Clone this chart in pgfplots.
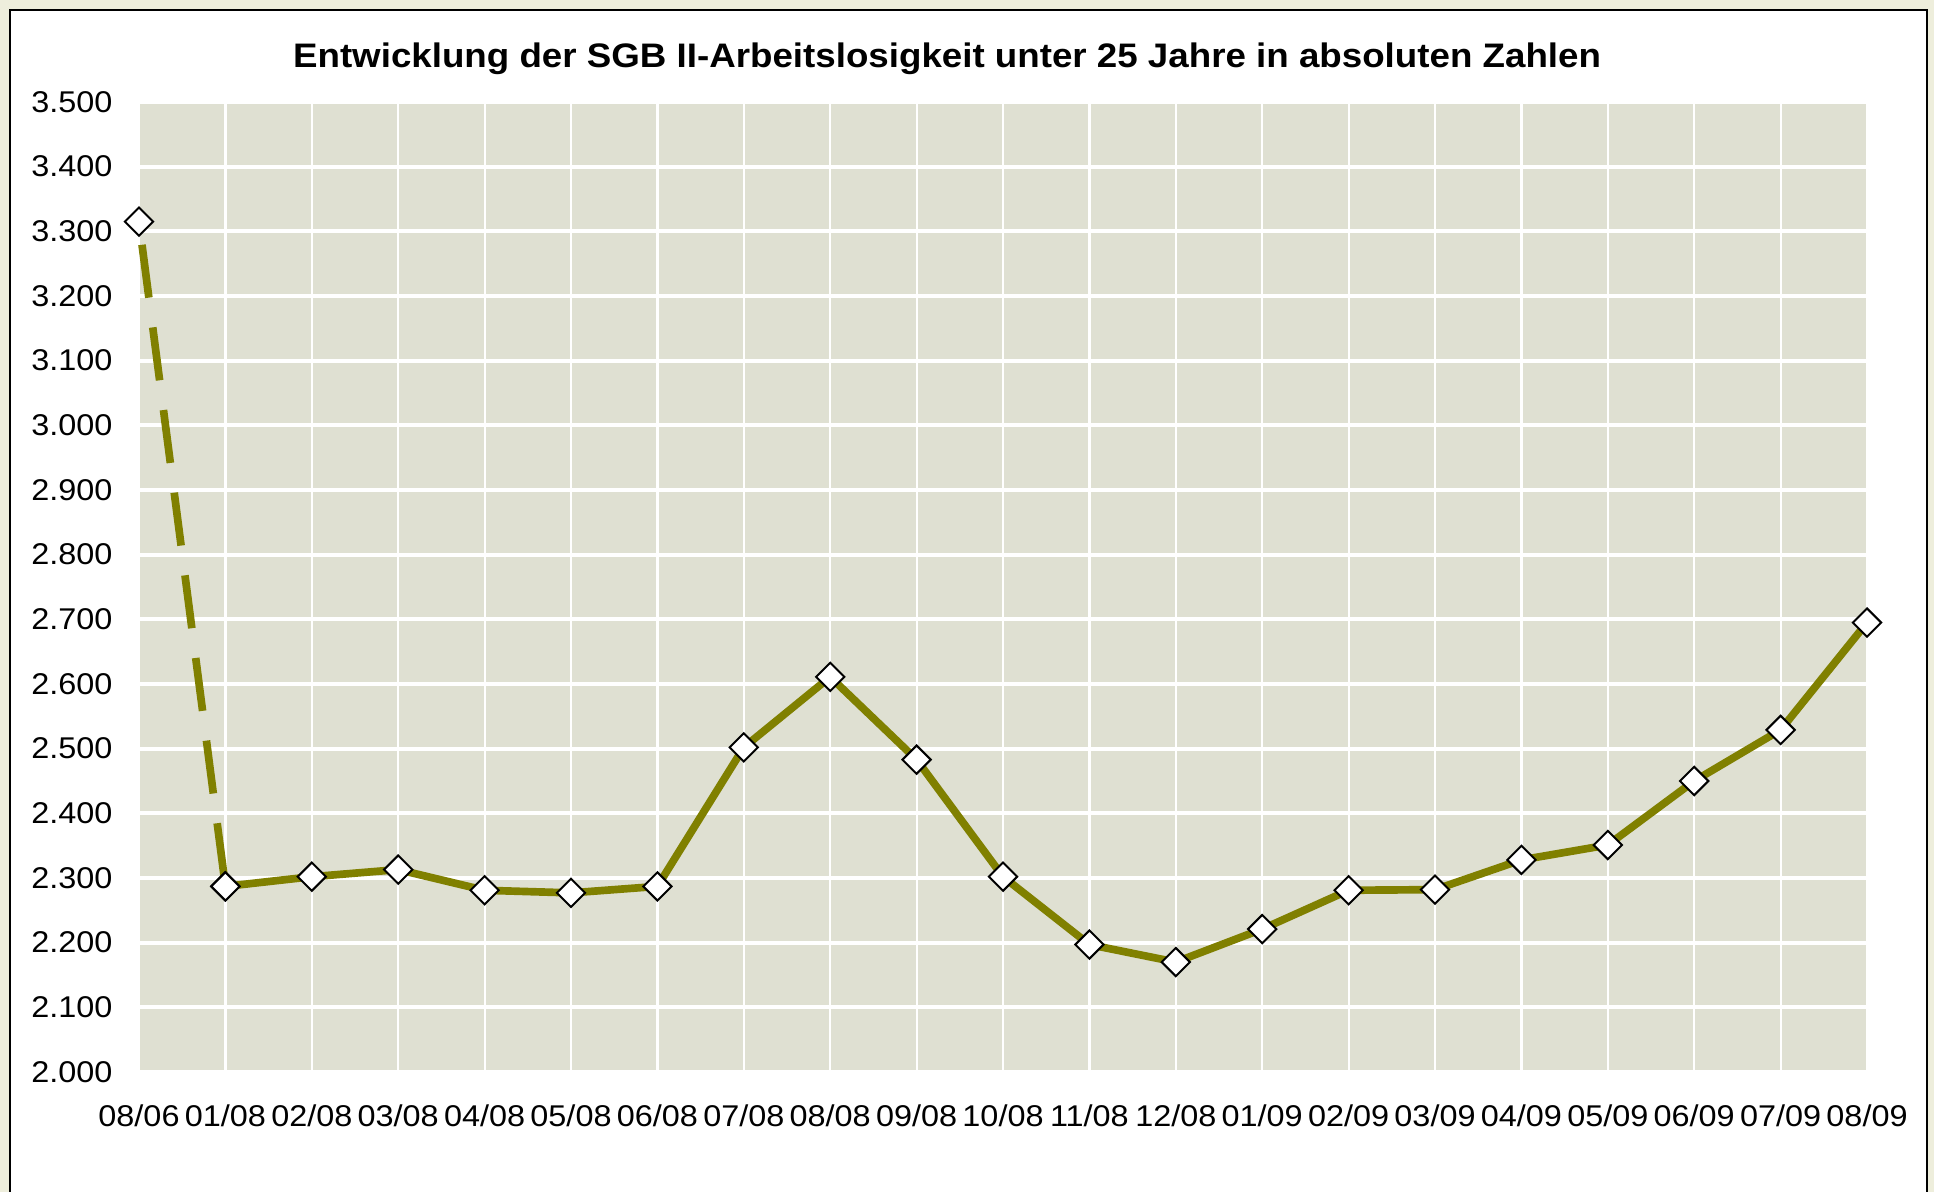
\documentclass[border=0pt]{standalone}
\usepackage{fontspec}
\setmainfont{Liberation Sans}[FakeStretch=1.08]
\usepackage{pgfplots}
\pgfplotsset{compat=1.18}

\definecolor{olivegreen}{RGB}{128,128,0}
\definecolor{plotbg}{RGB}{223,224,210}
\definecolor{cream}{RGB}{238,238,220}

\begin{document}
\begin{tikzpicture}
% frame: 1934 x 1192 px at 0.3pt per px
\clip (0,0) rectangle (580.2pt,-357.6pt);
\fill[cream] (0,0) rectangle (580.2pt,-357.6pt);
\filldraw[fill=white, draw=black, line width=0.6pt] (3pt,-3pt) rectangle (578.1pt,-400pt);
\begin{axis}[
    at={(41.7pt,-30.6pt)}, anchor=north west,
    scale only axis,
    width=518.4pt, height=291pt,
    xmin=0, xmax=20,
    ymin=2000, ymax=3500,
    xtick={0,1,...,20},
    xticklabels={08/06,01/08,02/08,03/08,04/08,05/08,06/08,07/08,08/08,09/08,10/08,11/08,12/08,01/09,02/09,03/09,04/09,05/09,06/09,07/09,08/09},
    ytick={2000,2100,...,3500},
    scaled y ticks=false,
    /pgf/number format/assume math mode=true,
    yticklabel style={/pgf/number format/1000 sep={.}, /pgf/number format/fixed,
        inner sep=0pt, xshift=-7.8pt, font=\fontsize{9}{10}\selectfont},
    xticklabel style={inner sep=0pt, yshift=-9.5pt, font=\fontsize{9}{10}\selectfont},
    axis background/.style={fill=plotbg},
    axis line style={draw=none},
    tick style={draw=none},
    grid=major,
    x grid style={white, line width=0.66pt},
    y grid style={white, line width=1.2pt},
    title={Entwicklung der SGB II-Arbeitslosigkeit unter 25 Jahre in absoluten Zahlen},
    title style={at={(0.4676,1)}, anchor=center, yshift=7pt,
        font=\bfseries\fontsize{10.2}{12}\selectfont},
    clip=false,
]
\addplot[olivegreen, line width=2.3pt, dash pattern=on 16pt off 9pt, dash phase=18pt,
    mark=square*, mark size=3pt,
    mark options={solid, rotate=45, fill=white, draw=black, line width=0.6pt}]
    coordinates {(0,3315) (1,2287)};
\addplot[olivegreen, line width=2.3pt,
    mark=square*, mark size=3pt,
    mark options={rotate=45, fill=white, draw=black, line width=0.6pt}]
    coordinates {
        (1,2287) (2,2302) (3,2313) (4,2281) (5,2277) (6,2287)
        (7,2502) (8,2611) (9,2483) (10,2302) (11,2197) (12,2170)
        (13,2221) (14,2281) (15,2282) (16,2328) (17,2351) (18,2450)
        (19,2529) (20,2695)
    };
\end{axis}
\end{tikzpicture}
\end{document}
